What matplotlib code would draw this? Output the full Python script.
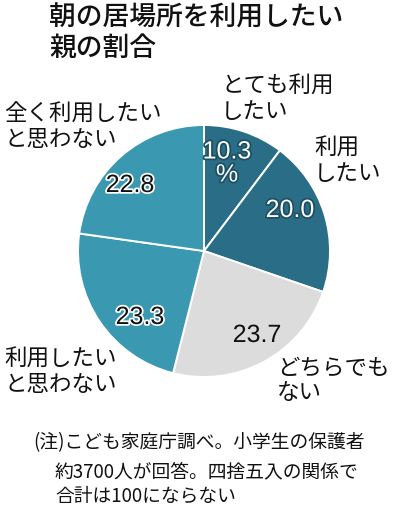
import matplotlib
matplotlib.use("Agg")
import matplotlib.pyplot as plt
import matplotlib.patheffects as pe

plt.rcParams['font.family'] = ['Noto Sans CJK JP', 'DejaVu Sans']

# Data
CATEGORIES = ['とても利用\nしたい', '利用\nしたい', 'どちらでも\nない',
              '利用したい\nと思わない', '全く利用したい\nと思わない']
VALUES = [10.3, 20.0, 23.7, 23.3, 22.8]
TITLE = '朝の居場所を利用したい\n親の割合'
NOTE_1 = '(注)こども家庭庁調べ。小学生の保護者'
NOTE_2 = '約3700人が回答。四捨五入の関係で\n合計は100にならない'

# Styles
COLORS = ['#2a6d87', '#2a6d87', '#dcdcdc', '#3a98b1', '#3a98b1']
W, H = 395, 509


def py(y):
    # pixel row (from top) -> data y
    return H - y


fig = plt.figure(figsize=(W / 100, H / 100), dpi=100)
ax = fig.add_axes([0, 0, 1, 1])

ax.pie(VALUES, colors=COLORS, startangle=90, counterclock=False,
       center=(204, py(251)), radius=126,
       wedgeprops=dict(edgecolor='white', linewidth=1.4))
ax.set_xlim(0, W)
ax.set_ylim(0, H)
ax.set_aspect('equal')
ax.axis('off')

# Title
ax.text(49, py(5), TITLE, ha='left', va='top', fontsize=19.3,
        linespacing=1.12, fontweight='medium', color='#111111')

# Category labels (left-aligned blocks, centre y in pixels)
label_pos = [(221, 99), (314, 161), (277, 380), (4, 372), (4, 127)]
for name, (x, y) in zip(CATEGORIES, label_pos):
    ax.text(x, py(y), name, ha='left', va='center', fontsize=16.2,
            linespacing=1.1, color='#111111')

# Value labels
value_pos = [(227, 163), (290, 210), (257, 335), (140, 317), (130, 185)]
value_txt = [f'{v:.1f}' for v in VALUES]
value_txt[0] = value_txt[0] + '\n%'
for i, (txt, (x, y)) in enumerate(zip(value_txt, value_pos)):
    if i < 2:
        col, halo = 'white', '#1d4f62'
    elif i == 2:
        col, halo = '#111111', '#dcdcdc'
    else:
        col, halo = '#111111', 'white'
    ax.text(x, py(y), txt, ha='center', va='center', fontsize=18,
            linespacing=0.95, color=col,
            family=['Liberation Sans', 'DejaVu Sans'],
            path_effects=[pe.withStroke(linewidth=2.5, foreground=halo)])

# Note
ax.text(33, py(443), NOTE_1, ha='left', va='center', fontsize=13.5,
        color='#111111')
ax.text(55, py(484), NOTE_2, ha='left', va='center', fontsize=13.5,
        linespacing=1.22, color='#111111')

fig.savefig('out.png', dpi=100)
